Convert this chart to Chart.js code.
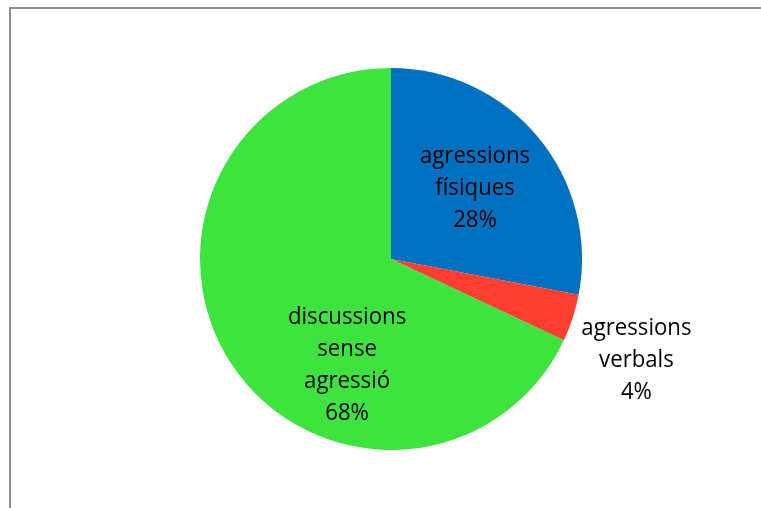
<!DOCTYPE html>
<html>
<head>
<meta charset="utf-8">
<script src="https://cdn.jsdelivr.net/npm/chart.js@4/dist/chart.umd.min.js"></script>
<style>
  html, body { margin: 0; padding: 0; background: #ffffff; }
  #wrap { position: relative; width: 761px; height: 508px; overflow: hidden; }
  #frame {
    position: absolute; left: 9px; top: 7px; width: 800px; height: 600px;
    border-left: 2px solid #8e8e8e; border-top: 2px solid #8e8e8e;
    pointer-events: none;
  }
  canvas { position: absolute; left: 0; top: 0; }
</style>
</head>
<body>
<div id="wrap">
  <canvas id="pie" width="761" height="508"></canvas>
  <div id="frame"></div>
</div>
<script>
// Categories and shares (percent)
const categories = [
  ['agressions', 'físiques'],
  ['agressions', 'verbals'],
  ['discussions', 'sense', 'agressió']
];
const shares = [28, 4, 68];
const sliceColors = ['#0070C0', '#FF3D30', '#3EE43E'];

// Label anchors, as fractions of the pie radius from its centre
const labelAnchors = [
  { dx: 0.44, dy: -0.37 },
  { dx: 1.285, dy: 0.53 },
  { dx: -0.23, dy: 0.555 }
];

const sliceLabels = {
  id: 'sliceLabels',
  afterDatasetsDraw(chart) {
    const ctx = chart.ctx;
    const meta = chart.getDatasetMeta(0);
    const lineH = 32;
    const squeeze = 0.925; // condensed look for the label face
    meta.data.forEach((arc, i) => {
      const r = arc.outerRadius;
      const cx = arc.x + labelAnchors[i].dx * r;
      const cy = arc.y + labelAnchors[i].dy * r;
      const lines = categories[i].concat([shares[i] + '%']);
      const top = cy - (lines.length - 1) * lineH / 2;
      ctx.save();
      ctx.translate(cx, 0);
      ctx.scale(squeeze, 1);
      ctx.font = '24px "Open Sans", sans-serif';
      ctx.fillStyle = '#000000';
      ctx.textAlign = 'center';
      ctx.textBaseline = 'middle';
      lines.forEach((t, k) => ctx.fillText(t, 0, top + k * lineH));
      ctx.restore();
    });
  }
};

new Chart(document.getElementById('pie'), {
  type: 'pie',
  data: {
    labels: categories.map(c => c.join(' ')),
    datasets: [{
      data: shares,
      backgroundColor: sliceColors,
      borderWidth: 0,
      hoverOffset: 0
    }]
  },
  options: {
    responsive: false,
    animation: false,
    layout: { padding: { left: 21, right: 0, top: 68, bottom: 58 } },
    plugins: { legend: { display: false }, tooltip: { enabled: false } }
  },
  plugins: [sliceLabels]
});
</script>
</body>
</html>
